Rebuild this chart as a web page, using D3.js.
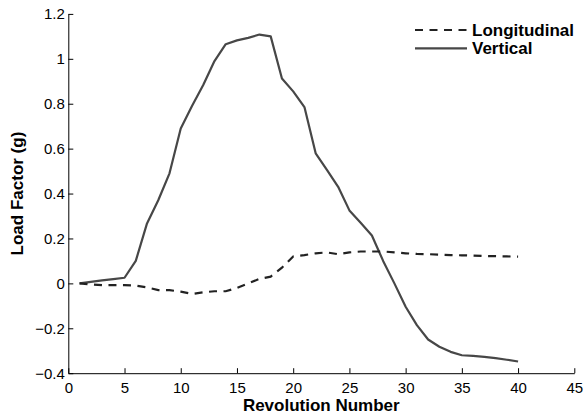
<!DOCTYPE html>
<html>
<head>
<meta charset="utf-8">
<script src="https://cdn.jsdelivr.net/npm/d3@7"></script>
<style>
  body { margin: 0; background: #fff; }
  svg { display: block; font-family: "Liberation Sans", Arial, Helvetica, sans-serif; }
  .axis path, .axis line { stroke: #000; stroke-width: 1; }
  .axis text { font-size: 15px; fill: #000; }
</style>
</head>
<body>
<svg id="chart" width="586" height="418"></svg>
<script>
// revolution numbers 1..40
const revolutions = [1,2,3,4,5,6,7,8,9,10,11,12,13,14,15,16,17,18,19,20,
                     21,22,23,24,25,26,27,28,29,30,31,32,33,34,35,36,37,38,39,40];

const longitudinal = [0, -0.005, -0.008, -0.008, -0.008, -0.01, -0.018, -0.03, -0.03, -0.037,
                      -0.047, -0.04, -0.035, -0.035, -0.02, 0.0, 0.02, 0.03, 0.07, 0.12,
                      0.126, 0.134, 0.138, 0.13, 0.138, 0.142, 0.142, 0.142, 0.138, 0.134,
                      0.131, 0.13, 0.128, 0.126, 0.125, 0.124, 0.122, 0.121, 0.12, 0.119];

const vertical = [0, 0.007, 0.013, 0.019, 0.025, 0.10, 0.267, 0.37, 0.49, 0.69,
                  0.79, 0.883, 0.99, 1.065, 1.082, 1.093, 1.108, 1.10, 0.912, 0.855,
                  0.785, 0.579, 0.505, 0.43, 0.325, 0.27, 0.213, 0.10, 0.0, -0.104,
                  -0.186, -0.25, -0.282, -0.305, -0.32, -0.323, -0.327, -0.333, -0.34, -0.348];

const xTicks = [0,5,10,15,20,25,30,35,40,45];
const yTicks = [-0.4,-0.2,0,0.2,0.4,0.6,0.8,1,1.2];

const seriesNames = ["Longitudinal", "Vertical"];

const svg = d3.select("#chart");
const x = d3.scaleLinear().domain([0,45]).range([68.3, 574.3]);
const y = d3.scaleLinear().domain([-0.4,1.2]).range([373.2, 13.9]);

const fmt = d => (d < 0 ? "\u2212" : "") + String(Math.abs(d));

// axes (ticks point inward, MATLAB style, no box)
svg.append("g").attr("class","axis")
    .attr("transform", `translate(0,${y(-0.4)})`)
    .call(d3.axisBottom(x).tickValues(xTicks).tickFormat(fmt)
        .tickSizeInner(-5).tickSizeOuter(0).tickPadding(9));

svg.append("g").attr("class","axis")
    .attr("transform", `translate(${x(0)},0)`)
    .call(d3.axisLeft(y).tickValues(yTicks).tickFormat(fmt)
        .tickSizeInner(-5).tickSizeOuter(0).tickPadding(3.5));

const pts = vals => revolutions.map((r,i) => [r, vals[i]]);
const line = d3.line().x(d => x(d[0])).y(d => y(d[1]));

svg.append("path").datum(pts(vertical))
    .attr("d", line).attr("fill","none")
    .attr("stroke","#474747").attr("stroke-width",2.2).attr("stroke-linejoin","round");

svg.append("path").datum(pts(longitudinal))
    .attr("d", line).attr("fill","none")
    .attr("stroke","#222").attr("stroke-width",2.2)
    .attr("stroke-dasharray","8,6.5");

// axis titles
svg.append("text")
    .attr("x", (x(0)+x(45))/2).attr("y", 411)
    .attr("text-anchor","middle").attr("font-size",17).attr("font-weight","bold")
    .text("Revolution Number");

svg.append("text")
    .attr("transform", `translate(23,${(y(-0.4)+y(1.2))/2}) rotate(-90)`)
    .attr("text-anchor","middle").attr("font-size",17).attr("font-weight","bold")
    .text("Load Factor (g)");

// legend
const legend = svg.append("g").attr("transform","translate(415,0)");
const legendRows = [
    { name: seriesNames[0], dash: "8,6.5", color: "#222", ly: 30, ty: 36 },
    { name: seriesNames[1], dash: null, color: "#474747", ly: 48.3, ty: 54 }
];
legendRows.forEach(r => {
    legend.append("line")
        .attr("x1",0).attr("x2",52).attr("y1",r.ly).attr("y2",r.ly)
        .attr("stroke", r.color).attr("stroke-width",2.2)
        .attr("stroke-dasharray", r.dash);
    legend.append("text")
        .attr("x",57).attr("y",r.ty)
        .attr("font-size",17).attr("font-weight","bold")
        .text(r.name);
});
</script>
</body>
</html>
